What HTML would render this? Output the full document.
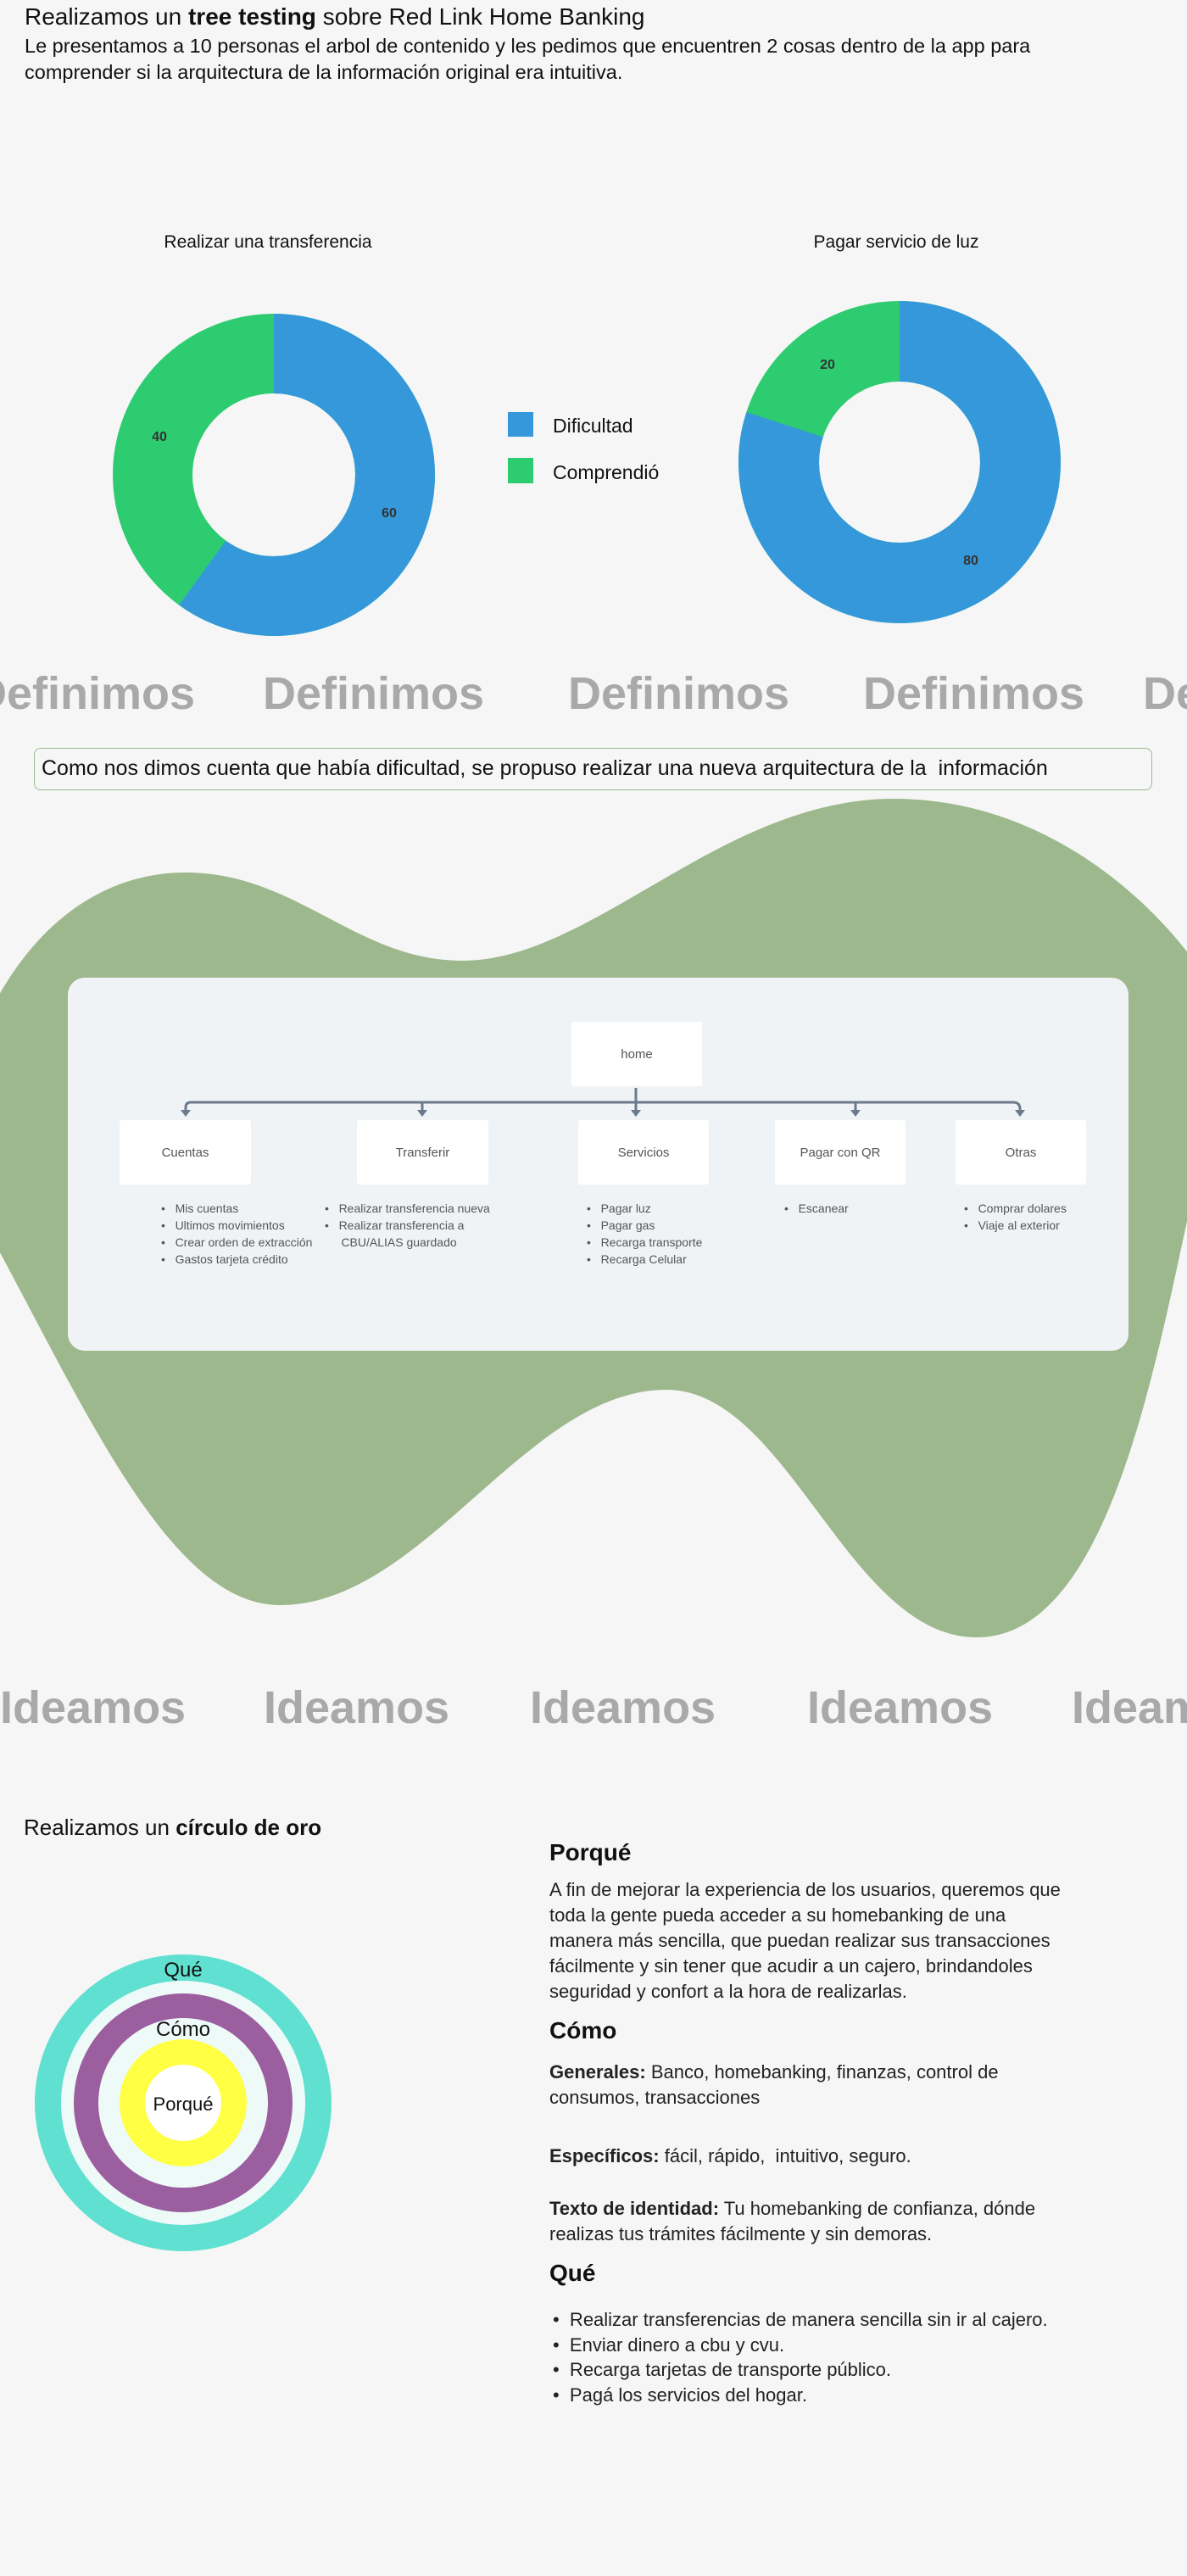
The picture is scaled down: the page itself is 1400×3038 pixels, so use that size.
<!DOCTYPE html>
<html><head><meta charset="utf-8"><style>
*{margin:0;padding:0;box-sizing:border-box}
body{width:1400px;height:3038px;background:#f6f6f6;position:relative;overflow:hidden;font-family:"Liberation Sans",sans-serif;color:#111}
.a{position:absolute;white-space:nowrap}
.big{font-weight:bold;color:#a9a9a9;font-size:54px;line-height:60px}
.nar{font-family:"Liberation Sans Narrow","Liberation Sans",sans-serif;color:#555}
.node{position:absolute;background:#fff;border-radius:3px;display:flex;align-items:center;justify-content:center;font-size:15px}
.li{font-size:14px;line-height:20px}
.rt{font-size:22px;line-height:30px;color:#222}
</style></head><body>
<div class="a" style="left:29px;top:2px;font-size:28px;line-height:36px">Realizamos un <b>tree testing</b> sobre Red Link Home Banking</div>
<div class="a" style="left:29px;top:39px;font-size:23.5px;line-height:31px">Le presentamos a 10 personas el arbol de contenido y les pedimos que encuentren 2 cosas dentro de la app para<br>comprender si la arquitectura de la información original era intuitiva.</div>

<div class="a" style="left:316px;top:274px;font-size:21px;transform:translateX(-50%)">Realizar una transferencia</div>
<div class="a" style="left:1057px;top:274px;font-size:21px;transform:translateX(-50%)">Pagar servicio de luz</div>

<svg class="a" style="left:0;top:0" width="1400" height="780">
<g transform="translate(323,560) rotate(-90)">
<circle r="143" fill="none" stroke="#2ecc71" stroke-width="94"/>
<circle r="143" fill="none" stroke="#3498db" stroke-width="94" stroke-dasharray="539.1 1000"/>
</g>
<g transform="translate(1061,545) rotate(-90)">
<circle r="142.5" fill="none" stroke="#2ecc71" stroke-width="95"/>
<circle r="142.5" fill="none" stroke="#3498db" stroke-width="95" stroke-dasharray="716.3 1000"/>
</g>
<g font-family="Liberation Sans Narrow, Liberation Sans, sans-serif" font-size="16" font-weight="bold" fill="#333" text-anchor="middle">
<text x="188" y="520">40</text><text x="459" y="610">60</text>
<text x="976" y="435">20</text><text x="1145" y="666">80</text>
</g>
<rect x="599" y="486" width="30" height="29" fill="#3498db"/>
<rect x="599" y="540" width="30" height="30" fill="#2ecc71"/>
<text x="652" y="510" font-size="23" fill="#111">Dificultad</text>
<text x="652" y="565" font-size="23" fill="#111">Comprendió</text>
</svg>

<div class="a big" style="left:-31px;top:788px">Definimos</div>
<div class="a big" style="left:310px;top:788px">Definimos</div>
<div class="a big" style="left:670px;top:788px">Definimos</div>
<div class="a big" style="left:1018px;top:788px">Definimos</div>
<div class="a big" style="left:1348px;top:788px">Definimos</div>

<div class="a" style="left:40px;top:882px;width:1319px;height:50px;border:1.5px solid #9dba8c;border-radius:8px;font-size:25px;line-height:47px;padding-left:8px">Como nos dimos cuenta que había dificultad, se propuso realizar una nueva arquitectura de la &nbsp;información</div>

<svg class="a" style="left:0;top:0" width="1400" height="2000">
<path d="M -20 1210 C 40 1080, 130 1029, 219 1029 C 350 1029, 420 1133, 545 1133 C 700 1133, 850 942, 1054 942 C 1230 942, 1360 1060, 1420 1150 L 1420 1350 C 1370 1560, 1320 1931, 1152 1931 C 1000 1931, 930 1639, 786 1639 C 620 1639, 500 1893, 330 1893 C 200 1893, 100 1660, -20 1440 Z" fill="#9db88c"/>
<rect x="80" y="1153" width="1251" height="440" rx="20" fill="#f0f3f6"/>
<g stroke="#6b7a8a" stroke-width="3" fill="none">
<path d="M219 1312 L219 1306 Q219 1300 225 1300 L1195 1300 Q1203 1300 1203 1308 L1203 1312"/>
<path d="M750 1283 L750 1310"/><path d="M498 1300 L498 1310"/><path d="M1009 1300 L1009 1310"/>
</g>
<g fill="#6b7a8a">
<path d="M213 1309 L225 1309 L219 1317Z"/><path d="M492 1309 L504 1309 L498 1317Z"/><path d="M744 1309 L756 1309 L750 1317Z"/><path d="M1003 1309 L1015 1309 L1009 1317Z"/><path d="M1197 1309 L1209 1309 L1203 1317Z"/>
</g>
</svg>
<div class="node nar" style="left:674px;top:1205px;width:154px;height:76px">home</div>
<div class="node nar" style="left:141px;top:1321px;width:155px;height:76px">Cuentas</div>
<div class="node nar" style="left:421px;top:1321px;width:155px;height:76px">Transferir</div>
<div class="node nar" style="left:682px;top:1321px;width:154px;height:76px">Servicios</div>
<div class="node nar" style="left:914px;top:1321px;width:154px;height:76px">Pagar con QR</div>
<div class="node nar" style="left:1127px;top:1321px;width:154px;height:76px">Otras</div>

<div class="a nar li" style="left:190px;top:1415px">•&nbsp;&nbsp; Mis cuentas<br>•&nbsp;&nbsp; Ultimos movimientos<br>•&nbsp;&nbsp; Crear orden de extracción<br>•&nbsp;&nbsp; Gastos tarjeta crédito</div>
<div class="a nar li" style="left:383px;top:1415px">•&nbsp;&nbsp; Realizar transferencia nueva<br>•&nbsp;&nbsp; Realizar transferencia a<br>&nbsp;&nbsp;&nbsp;&nbsp; CBU/ALIAS guardado</div>
<div class="a nar li" style="left:692px;top:1415px">•&nbsp;&nbsp; Pagar luz<br>•&nbsp;&nbsp; Pagar gas<br>•&nbsp;&nbsp; Recarga transporte<br>•&nbsp;&nbsp; Recarga Celular</div>
<div class="a nar li" style="left:925px;top:1415px">•&nbsp;&nbsp; Escanear</div>
<div class="a nar li" style="left:1137px;top:1415px">•&nbsp;&nbsp; Comprar dolares<br>•&nbsp;&nbsp; Viaje al exterior</div>

<div class="a big" style="left:0px;top:1984px">Ideamos</div>
<div class="a big" style="left:311px;top:1984px">Ideamos</div>
<div class="a big" style="left:625px;top:1984px">Ideamos</div>
<div class="a big" style="left:952px;top:1984px">Ideamos</div>
<div class="a big" style="left:1264px;top:1984px">Ideamos</div>

<div class="a" style="left:28px;top:2138px;font-size:26px;line-height:34px">Realizamos un <b>círculo de oro</b></div>

<svg class="a" style="left:0;top:2300px" width="440" height="370">
<g transform="translate(216,180)">
<circle r="175" fill="#5fe0d0"/><circle r="144" fill="#eefaf8"/>
<circle r="129" fill="#9b5fa0"/><circle r="100" fill="#eefaf8"/>
<circle r="75" fill="#ffff44"/><circle r="45" fill="#fff"/>
</g>
<g font-size="24" fill="#111" text-anchor="middle" font-family="Liberation Sans, sans-serif">
<text x="216" y="31">Qué</text><text x="216" y="101">Cómo</text><text x="216" y="189" font-size="22">Porqué</text>
</g>
</svg>

<div class="a" style="left:648px;top:2166px;font-size:28px;line-height:38px;font-weight:bold">Porqué</div>
<div class="a rt" style="left:648px;top:2214px">A fin de mejorar la experiencia de los usuarios, queremos que<br>toda la gente pueda acceder a su homebanking de una<br>manera más sencilla, que puedan realizar sus transacciones<br>fácilmente y sin tener que acudir a un cajero, brindandoles<br>seguridad y confort a la hora de realizarlas.</div>
<div class="a" style="left:648px;top:2376px;font-size:28px;line-height:38px;font-weight:bold">Cómo</div>
<div class="a rt" style="left:648px;top:2429px"><b>Generales:</b> Banco, homebanking, finanzas, control de<br>consumos, transacciones</div>
<div class="a rt" style="left:648px;top:2528px"><b>Específicos:</b> fácil, rápido, &nbsp;intuitivo, seguro.</div>
<div class="a rt" style="left:648px;top:2590px"><b>Texto de identidad:</b> Tu homebanking de confianza, dónde<br>realizas tus trámites fácilmente y sin demoras.</div>
<div class="a" style="left:648px;top:2662px;font-size:28px;line-height:38px;font-weight:bold">Qué</div>
<div class="a rt" style="left:652px;top:2721px;line-height:29.7px">•&nbsp; Realizar transferencias de manera sencilla sin ir al cajero.<br>•&nbsp; Enviar dinero a cbu y cvu.<br>•&nbsp; Recarga tarjetas de transporte público.<br>•&nbsp; Pagá los servicios del hogar.</div>
</body></html>
